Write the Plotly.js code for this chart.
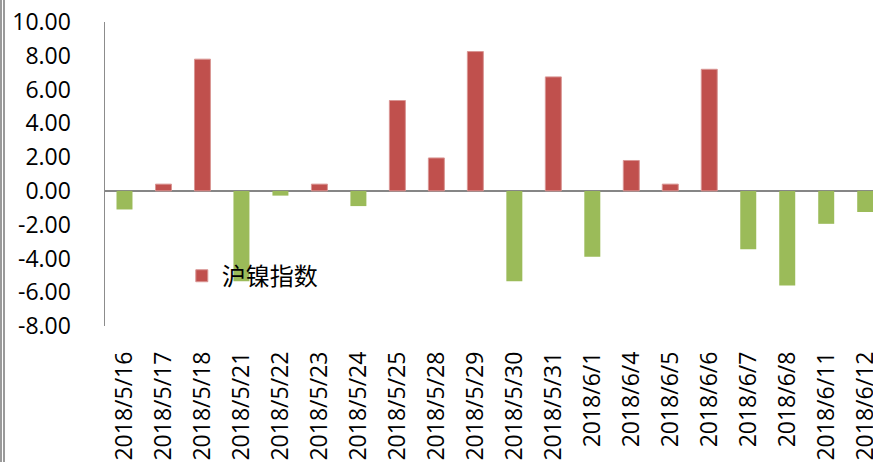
<!DOCTYPE html>
<html>
<head>
<meta charset="utf-8">
<script src="https://cdn.plot.ly/plotly-3.0.1.min.js"></script>
<style>
  html, body { margin: 0; padding: 0; background: #fff; overflow: hidden; }
  #chart { width: 873px; height: 462px; }
  #frame { position: absolute; left: 0; top: 0; width: 0; height: 462px; border-left: 5px double #9a9a9a; }
</style>
</head>
<body>
<div id="chart"></div>
<div id="frame"></div>
<script>
const categories = ["2018/5/16","2018/5/17","2018/5/18","2018/5/21","2018/5/22","2018/5/23","2018/5/24","2018/5/25","2018/5/28","2018/5/29","2018/5/30","2018/5/31","2018/6/1","2018/6/4","2018/6/5","2018/6/6","2018/6/7","2018/6/8","2018/6/11","2018/6/12"];
const values = [-1.1, 0.4, 7.8, -5.35, -0.28, 0.4, -0.9, 5.35, 1.95, 8.25, -5.35, 6.75, -3.9, 1.8, 0.4, 7.2, -3.45, -5.6, -1.95, -1.25];
const seriesName = "沪镍指数";
const yTicks = [-8, -6, -4, -2, 0, 2, 4, 6, 8, 10];

const upValues = values.map(v => v > 0 ? v : null);
const downValues = values.map(v => v < 0 ? v : null);

const traces = [
  {
    type: 'bar', x: categories, y: upValues, name: seriesName,
    marker: { color: '#C0504D', line: { color: '#D99694', width: 1 } },
    showlegend: true, hoverinfo: 'x+y'
  },
  {
    type: 'bar', x: categories, y: downValues, name: seriesName,
    marker: { color: '#9BBB59', line: { width: 0 } },
    showlegend: false, hoverinfo: 'x+y'
  }
];

const layout = {
  width: 873, height: 462,
  margin: { l: 105, r: 0, t: 22, b: 136 },
  paper_bgcolor: '#fff', plot_bgcolor: '#fff',
  barmode: 'overlay',
  bargap: 0.59,
  showlegend: true,
  legend: {
    x: 0.1, y: 0.164, xanchor: 'left', yanchor: 'middle',
    bgcolor: 'rgba(0,0,0,0)',
    font: { family: '"Noto Sans CJK SC", sans-serif', size: 24, color: '#000' }
  },
  xaxis: {
    type: 'category',
    range: [-0.5, 19.2],
    tickangle: -90,
    showgrid: false, showline: false, zeroline: false,
    ticks: '',
    ticklabelstandoff: 20,
    tickfont: { family: '"Open Sans", sans-serif', size: 23, color: '#000' }
  },
  yaxis: {
    range: [-8, 10],
    tickvals: yTicks,
    ticktext: yTicks.map(v => v.toFixed(2)),
    showgrid: false,
    showline: true, linecolor: '#8c8c8c', linewidth: 1.5,
    zeroline: true, zerolinecolor: '#868686', zerolinewidth: 2.5,
    ticks: '',
    ticklabelstandoff: 28,
    tickfont: { family: '"Open Sans", sans-serif', size: 23, color: '#000' }
  }
};

Plotly.newPlot('chart', traces, layout, { displayModeBar: false, staticPlot: true });
</script>
</body>
</html>
